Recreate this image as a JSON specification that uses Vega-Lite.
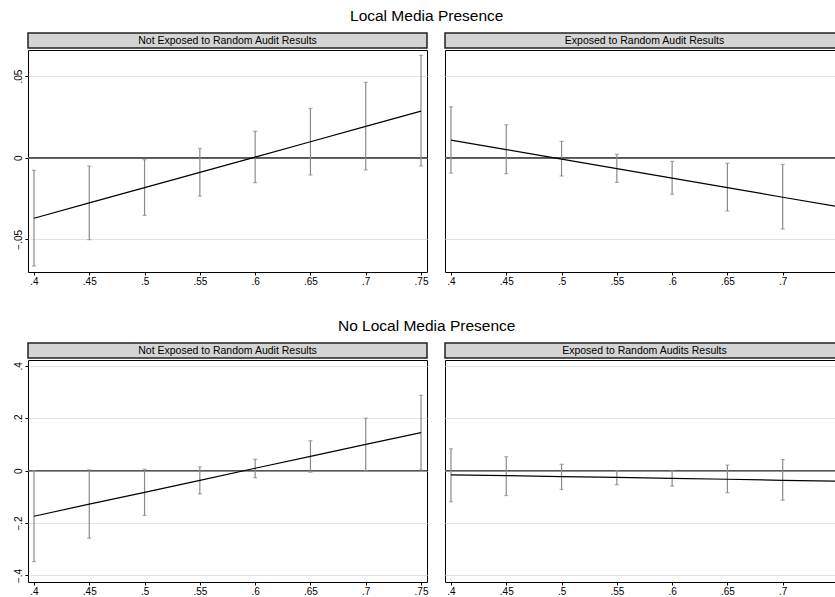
{
  "$schema": "https://vega.github.io/schema/vega-lite/v6.json",
  "padding": {"left": 12, "top": 8, "right": 0, "bottom": 0},
  "background": "#ffffff",
  "config": {
    "font": "Liberation Sans",
    "view": {"stroke": "#000000", "strokeWidth": 1},
    "axis": {"labelFontSize": 10, "labelColor": "#000000", "tickColor": "#000000", "tickSize": 3, "tickWidth": 1, "domain": false, "gridColor": "#e3e3e3", "gridWidth": 1.2, "labelPadding": 1},
    "title": {"font": "Liberation Sans", "fontWeight": "normal", "color": "#000000"}
  },
  "datasets": {
    "tl": [
      {"x": 0.40, "est": -0.0371, "lo": -0.0663, "hi": -0.0077},
      {"x": 0.45, "est": -0.0277, "lo": -0.0502, "hi": -0.0051},
      {"x": 0.50, "est": -0.0183, "lo": -0.0353, "hi": -0.0012},
      {"x": 0.55, "est": -0.0090, "lo": -0.0235, "hi": 0.0057},
      {"x": 0.60, "est": 0.0004, "lo": -0.0153, "hi": 0.0162},
      {"x": 0.65, "est": 0.0098, "lo": -0.0106, "hi": 0.0302},
      {"x": 0.70, "est": 0.0192, "lo": -0.0075, "hi": 0.0462},
      {"x": 0.75, "est": 0.0286, "lo": -0.0051, "hi": 0.0627}
    ],
    "tr": [
      {"x": 0.40, "est": 0.0108, "lo": -0.0094, "hi": 0.0312},
      {"x": 0.45, "est": 0.0050, "lo": -0.0098, "hi": 0.0202},
      {"x": 0.50, "est": -0.0008, "lo": -0.0112, "hi": 0.0100},
      {"x": 0.55, "est": -0.0067, "lo": -0.0151, "hi": 0.0021},
      {"x": 0.60, "est": -0.0125, "lo": -0.0224, "hi": -0.0022},
      {"x": 0.65, "est": -0.0183, "lo": -0.0326, "hi": -0.0034},
      {"x": 0.70, "est": -0.0242, "lo": -0.0437, "hi": -0.0041},
      {"x": 0.75, "est": -0.0300, "lo": -0.0551, "hi": -0.0045}
    ],
    "bl": [
      {"x": 0.40, "est": -0.174, "lo": -0.347, "hi": 0.000},
      {"x": 0.45, "est": -0.128, "lo": -0.258, "hi": 0.003},
      {"x": 0.50, "est": -0.083, "lo": -0.171, "hi": 0.005},
      {"x": 0.55, "est": -0.037, "lo": -0.089, "hi": 0.014},
      {"x": 0.60, "est": 0.009, "lo": -0.027, "hi": 0.043},
      {"x": 0.65, "est": 0.054, "lo": -0.006, "hi": 0.114},
      {"x": 0.70, "est": 0.100, "lo": 0.000, "hi": 0.200},
      {"x": 0.75, "est": 0.145, "lo": 0.002, "hi": 0.287}
    ],
    "br": [
      {"x": 0.40, "est": -0.016, "lo": -0.119, "hi": 0.083},
      {"x": 0.45, "est": -0.019, "lo": -0.095, "hi": 0.053},
      {"x": 0.50, "est": -0.023, "lo": -0.072, "hi": 0.024},
      {"x": 0.55, "est": -0.026, "lo": -0.054, "hi": 0.000},
      {"x": 0.60, "est": -0.030, "lo": -0.059, "hi": 0.000},
      {"x": 0.65, "est": -0.033, "lo": -0.084, "hi": 0.021},
      {"x": 0.70, "est": -0.037, "lo": -0.113, "hi": 0.042},
      {"x": 0.75, "est": -0.040, "lo": -0.145, "hi": 0.066}
    ]
  },
  "vconcat": [
    {
      "title": {"text": "Local Media Presence", "fontSize": 15.5, "anchor": "middle", "offset": 8},
      "spacing": 15,
      "hconcat": [
        {
          "spacing": 0,
          "vconcat": [
            {
              "width": 399, "height": 15,
              "view": {"fill": "#d4d4d4", "stroke": "#222222", "strokeWidth": 1.5},
              "data": {"values": [{"label": "Not Exposed to Random Audit Results"}]},
              "mark": {"type": "text", "fontSize": 10.5, "baseline": "middle", "color": "#000000"},
              "encoding": {"text": {"field": "label"}, "x": {"datum": 0.575, "type": "quantitative", "scale": {"domain": [0.3946, 0.7554]}, "axis": null}}
            },
            {
              "width": 399, "height": 222,
              "data": {"name": "tl"},
              "layer": [
                {"mark": {"type": "rule", "color": "#555555", "strokeWidth": 1}, "encoding": {"y": {"datum": 0, "type": "quantitative", "scale": {"domain": [-0.070, 0.066], "nice": false, "zero": false}, "axis": {"values": [-0.05, 0, 0.05], "labelAngle": -90, "labelAlign": "center", "labelBaseline": "alphabetic", "labelPadding": 4, "labelExpr": "replace(format(datum.value, '~g'), '0.', '.')", "grid": true}, "title": null}}},
                {"mark": {"type": "rule", "color": "#8a8a8a", "strokeWidth": 1.2}, "encoding": {"x": {"field": "x", "type": "quantitative", "scale": {"domain": [0.3946, 0.7554], "nice": false, "zero": false}, "axis": {"values": [0.4, 0.45, 0.5, 0.55, 0.6, 0.65, 0.7, 0.75], "labelExpr": "replace(format(datum.value, '~g'), '0.', '.')", "grid": false}, "title": null}, "y": {"field": "lo", "type": "quantitative", "title": null}, "y2": {"field": "hi"}}},
                {"mark": {"type": "tick", "orient": "horizontal", "size": 4, "thickness": 1.2, "color": "#8a8a8a"}, "encoding": {"x": {"field": "x", "type": "quantitative", "title": null}, "y": {"field": "lo", "type": "quantitative", "title": null}}},
                {"mark": {"type": "tick", "orient": "horizontal", "size": 4, "thickness": 1.2, "color": "#8a8a8a"}, "encoding": {"x": {"field": "x", "type": "quantitative", "title": null}, "y": {"field": "hi", "type": "quantitative", "title": null}}},
                {"mark": {"type": "line", "color": "#000000", "strokeWidth": 1.2}, "encoding": {"x": {"field": "x", "type": "quantitative", "title": null}, "y": {"field": "est", "type": "quantitative", "title": null}}}
              ]
            }
          ]
        },
        {
          "spacing": 0,
          "vconcat": [
            {
              "width": 393, "height": 15,
              "view": {"fill": "#d4d4d4", "stroke": "#222222", "strokeWidth": 1.5},
              "data": {"values": [{"label": "Exposed to Random Audit Results"}]},
              "mark": {"type": "text", "fontSize": 10.5, "baseline": "middle", "color": "#000000"},
              "encoding": {"text": {"field": "label"}, "x": {"datum": 0.575, "type": "quantitative", "scale": {"domain": [0.3946, 0.75]}, "axis": null}}
            },
            {
              "width": 393, "height": 222,
              "data": {"name": "tr"},
              "layer": [
                {"mark": {"type": "rule", "color": "#555555", "strokeWidth": 1}, "encoding": {"y": {"datum": 0, "type": "quantitative", "scale": {"domain": [-0.070, 0.066], "nice": false, "zero": false}, "axis": {"values": [-0.05, 0, 0.05], "labels": false, "ticks": false, "grid": true}, "title": null}}},
                {"mark": {"type": "rule", "color": "#8a8a8a", "strokeWidth": 1.2}, "encoding": {"x": {"field": "x", "type": "quantitative", "scale": {"domain": [0.3946, 0.75], "nice": false, "zero": false}, "axis": {"values": [0.4, 0.45, 0.5, 0.55, 0.6, 0.65, 0.7], "labelExpr": "replace(format(datum.value, '~g'), '0.', '.')", "grid": false}, "title": null}, "y": {"field": "lo", "type": "quantitative", "title": null}, "y2": {"field": "hi"}}},
                {"mark": {"type": "tick", "orient": "horizontal", "size": 4, "thickness": 1.2, "color": "#8a8a8a"}, "encoding": {"x": {"field": "x", "type": "quantitative", "title": null}, "y": {"field": "lo", "type": "quantitative", "title": null}}},
                {"mark": {"type": "tick", "orient": "horizontal", "size": 4, "thickness": 1.2, "color": "#8a8a8a"}, "encoding": {"x": {"field": "x", "type": "quantitative", "title": null}, "y": {"field": "hi", "type": "quantitative", "title": null}}},
                {"mark": {"type": "line", "color": "#000000", "strokeWidth": 1.2}, "encoding": {"x": {"field": "x", "type": "quantitative", "title": null}, "y": {"field": "est", "type": "quantitative", "title": null}}}
              ]
            }
          ]
        }
      ]
    },
    {
      "title": {"text": "No Local Media Presence", "fontSize": 15.5, "anchor": "middle", "offset": 8},
      "spacing": 15,
      "hconcat": [
        {
          "spacing": 0,
          "vconcat": [
            {
              "width": 399, "height": 15,
              "view": {"fill": "#d4d4d4", "stroke": "#222222", "strokeWidth": 1.5},
              "data": {"values": [{"label": "Not Exposed to Random Audit Results"}]},
              "mark": {"type": "text", "fontSize": 10.5, "baseline": "middle", "color": "#000000"},
              "encoding": {"text": {"field": "label"}, "x": {"datum": 0.575, "type": "quantitative", "scale": {"domain": [0.3946, 0.7554]}, "axis": null}}
            },
            {
              "width": 399, "height": 222,
              "data": {"name": "bl"},
              "layer": [
                {"mark": {"type": "rule", "color": "#555555", "strokeWidth": 1}, "encoding": {"y": {"datum": 0, "type": "quantitative", "scale": {"domain": [-0.425, 0.422], "nice": false, "zero": false}, "axis": {"values": [-0.4, -0.2, 0, 0.2, 0.4], "labelAngle": -90, "labelAlign": "center", "labelBaseline": "alphabetic", "labelPadding": 4, "labelExpr": "replace(format(datum.value, '~g'), '0.', '.')", "grid": true}, "title": null}}},
                {"mark": {"type": "rule", "color": "#8a8a8a", "strokeWidth": 1.2}, "encoding": {"x": {"field": "x", "type": "quantitative", "scale": {"domain": [0.3946, 0.7554], "nice": false, "zero": false}, "axis": {"values": [0.4, 0.45, 0.5, 0.55, 0.6, 0.65, 0.7, 0.75], "labelExpr": "replace(format(datum.value, '~g'), '0.', '.')", "grid": false}, "title": null}, "y": {"field": "lo", "type": "quantitative", "title": null}, "y2": {"field": "hi"}}},
                {"mark": {"type": "tick", "orient": "horizontal", "size": 4, "thickness": 1.2, "color": "#8a8a8a"}, "encoding": {"x": {"field": "x", "type": "quantitative", "title": null}, "y": {"field": "lo", "type": "quantitative", "title": null}}},
                {"mark": {"type": "tick", "orient": "horizontal", "size": 4, "thickness": 1.2, "color": "#8a8a8a"}, "encoding": {"x": {"field": "x", "type": "quantitative", "title": null}, "y": {"field": "hi", "type": "quantitative", "title": null}}},
                {"mark": {"type": "line", "color": "#000000", "strokeWidth": 1.2}, "encoding": {"x": {"field": "x", "type": "quantitative", "title": null}, "y": {"field": "est", "type": "quantitative", "title": null}}}
              ]
            }
          ]
        },
        {
          "spacing": 0,
          "vconcat": [
            {
              "width": 393, "height": 15,
              "view": {"fill": "#d4d4d4", "stroke": "#222222", "strokeWidth": 1.5},
              "data": {"values": [{"label": "Exposed to Random Audits Results"}]},
              "mark": {"type": "text", "fontSize": 10.5, "baseline": "middle", "color": "#000000"},
              "encoding": {"text": {"field": "label"}, "x": {"datum": 0.575, "type": "quantitative", "scale": {"domain": [0.3946, 0.75]}, "axis": null}}
            },
            {
              "width": 393, "height": 222,
              "data": {"name": "br"},
              "layer": [
                {"mark": {"type": "rule", "color": "#555555", "strokeWidth": 1}, "encoding": {"y": {"datum": 0, "type": "quantitative", "scale": {"domain": [-0.425, 0.422], "nice": false, "zero": false}, "axis": {"values": [-0.4, -0.2, 0, 0.2, 0.4], "labels": false, "ticks": false, "grid": true}, "title": null}}},
                {"mark": {"type": "rule", "color": "#8a8a8a", "strokeWidth": 1.2}, "encoding": {"x": {"field": "x", "type": "quantitative", "scale": {"domain": [0.3946, 0.75], "nice": false, "zero": false}, "axis": {"values": [0.4, 0.45, 0.5, 0.55, 0.6, 0.65, 0.7], "labelExpr": "replace(format(datum.value, '~g'), '0.', '.')", "grid": false}, "title": null}, "y": {"field": "lo", "type": "quantitative", "title": null}, "y2": {"field": "hi"}}},
                {"mark": {"type": "tick", "orient": "horizontal", "size": 4, "thickness": 1.2, "color": "#8a8a8a"}, "encoding": {"x": {"field": "x", "type": "quantitative", "title": null}, "y": {"field": "lo", "type": "quantitative", "title": null}}},
                {"mark": {"type": "tick", "orient": "horizontal", "size": 4, "thickness": 1.2, "color": "#8a8a8a"}, "encoding": {"x": {"field": "x", "type": "quantitative", "title": null}, "y": {"field": "hi", "type": "quantitative", "title": null}}},
                {"mark": {"type": "line", "color": "#000000", "strokeWidth": 1.2}, "encoding": {"x": {"field": "x", "type": "quantitative", "title": null}, "y": {"field": "est", "type": "quantitative", "title": null}}}
              ]
            }
          ]
        }
      ]
    }
  ],
  "spacing": 31
}
